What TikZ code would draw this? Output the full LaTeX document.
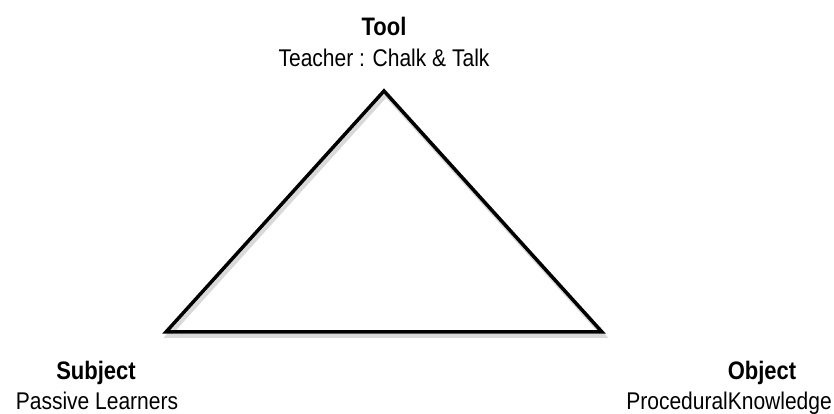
\documentclass[tikz,border=0pt]{standalone}
\usepackage{fontspec}
\setmainfont{Liberation Sans}
\newcommand{\tallText}[1]{\scalebox{1}[1.15]{#1}}

\begin{document}
\begin{tikzpicture}[x=1pt,y=1pt,
    head/.style={font=\fontsize{22}{26}\selectfont\bfseries, inner sep=0pt},
    role/.style={font=\fontsize{21}{25}\selectfont, inner sep=0pt}]
  \useasboundingbox (0,0) rectangle (834,414);
  \coordinate (T) at (384,323);
  \coordinate (S) at (166,82);
  \coordinate (O) at (602,82);
  % shadow, then the triangle
  \draw[gray!30, line width=4pt] ([shift={(2,-4)}]T) -- ([shift={(2,-4)}]S) -- ([shift={(2,-4)}]O) -- cycle;
  \draw[line width=3.5pt] (T) -- (S) -- (O) -- cycle;
  \node[head, anchor=base] (tool) at (384,378) {\tallText{Tool}};
  \node[role, anchor=base] (tooltxt) at (384,347) {\tallText{Teacher : Chalk \& Talk}};
  \node[head, anchor=base] (subj) at (96,34) {\tallText{Subject}};
  \node[role, anchor=base] (subjtxt) at (97,4) {\tallText{Passive Learners}};
  \node[head, anchor=base] (obj) at (762,34) {\tallText{Object}};
  \node[role, anchor=base east] (objtxt) at (832,4) {\tallText{ProceduralKnowledge}};
\end{tikzpicture}
\end{document}
